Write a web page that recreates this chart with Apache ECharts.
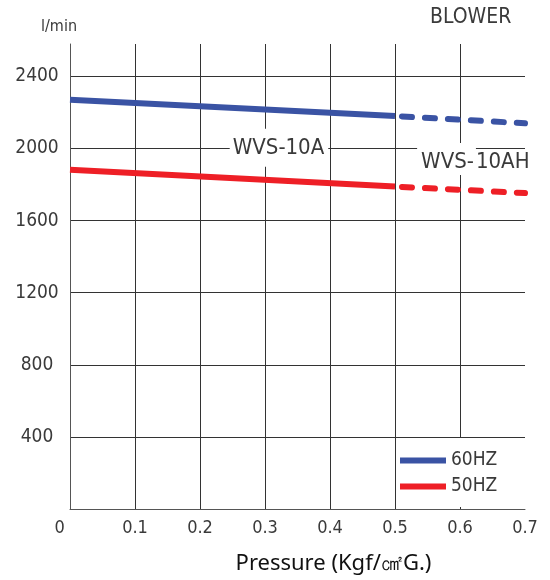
<!DOCTYPE html>
<html>
<head>
<meta charset="utf-8">
<script src="https://cdn.jsdelivr.net/npm/echarts@6/dist/echarts.min.js"></script>
<style>html,body{margin:0;padding:0;background:#fff;}#c{width:550px;height:580px;}</style>
</head>
<body>
<div id="c"></div>
<script>
// Data
var xTicks = [0, 0.1, 0.2, 0.3, 0.4, 0.5, 0.6, 0.7];
var yTicks = [400, 800, 1200, 1600, 2000, 2400];
var pressure60Solid = [0, 0.5];
var flow60Solid = [2271, 2180];
var pressure60Dash = [0.5, 0.7];
var flow60Dash = [2180, 2140];
var pressure50Solid = [0, 0.5];
var flow50Solid = [1882, 1789];
var pressure50Dash = [0.5, 0.7];
var flow50Dash = [1789, 1753];
var seriesNames = ['60HZ', '50HZ'];
var labelA = 'WVS-10A';
var labelAPos = [0.3215, 2004];
var labelAH = ['WVS-', '10AH'];
var labelAHPos = [0.6205, 1942];

function pairs(xs, ys) { return xs.map(function (x, i) { return [x, ys[i]]; }); }

var CAD = '"DejaVu Sans Condensed", "DejaVu Sans", sans-serif';
var BLUE = '#3a53a4';
var RED = '#ee1f26';
var GRIDC = '#333';
var TXT = '#3a3a3a';

var chart = echarts.init(document.getElementById('c'), null, {renderer: 'canvas'});
chart.setOption({
  animation: false,
  backgroundColor: '#fff',
  title: [
    {text: 'l/min', left: 41, top: 19, padding: 0,
     textStyle: {fontFamily: CAD, fontSize: 16, fontWeight: 'normal', color: TXT}},
    {text: 'BLOWER', left: 430, top: 7, padding: 0,
     textStyle: {fontFamily: CAD, fontSize: 21, fontWeight: 'normal', color: TXT}}
  ],
  grid: {left: 70, right: 25, top: 44, bottom: 71, containLabel: false, outerBoundsMode: 'none'},
  legend: {
    data: seriesNames,
    orient: 'vertical',
    left: 397, top: 438,
    backgroundColor: '#fff',
    padding: [13, 23, 11, 3],
    itemGap: 7,
    itemWidth: 46, itemHeight: 6,
    icon: 'rect',
    textStyle: {fontFamily: CAD, fontSize: 19, lineHeight: 19, color: TXT}
  },
  xAxis: {
    type: 'value', min: 0, max: 0.7, interval: 0.1,
    axisLine: {show: true, lineStyle: {color: '#555', width: 1}},
    axisTick: {show: false},
    splitLine: {show: true, showMinLine: false, showMaxLine: false, lineStyle: {color: GRIDC, width: 1}},
    axisLabel: {
      margin: 10, fontFamily: CAD, fontSize: 18, color: TXT,
      formatter: function (v) { return v === 0 ? '0    ' : (xTicks.indexOf(Math.round(v * 10) / 10) >= 0 ? (Math.round(v * 10) / 10).toFixed(1) : ''); }
    },
    name: 'Pressure (Kgf/㎠G.)',
    nameLocation: 'middle',
    nameGap: 44,
    nameTextStyle: {fontFamily: '"Noto Sans", sans-serif', fontSize: 22, color: '#111', padding: [0, 0, 0, 72]}
  },
  yAxis: {
    type: 'value', min: 0, max: 2580, interval: 400,
    axisLine: {show: true, lineStyle: {color: '#555', width: 1}},
    axisTick: {show: false},
    splitLine: {show: true, showMinLine: false, showMaxLine: false, lineStyle: {color: GRIDC, width: 1}},
    axisLabel: {
      showMinLabel: false, showMaxLabel: false,
      align: 'center', margin: 33,
      fontFamily: CAD, fontSize: 19, color: TXT,
      formatter: function (v) { return yTicks.indexOf(v) >= 0 ? String(v) : ''; }
    }
  },
  series: [
    {
      name: seriesNames[0], type: 'line', data: pairs(pressure60Solid, flow60Solid),
      symbol: 'none', color: BLUE, lineStyle: {color: BLUE, width: 6}, z: 3,
      markPoint: {
        symbol: 'circle', symbolSize: 1, itemStyle: {color: 'rgba(0,0,0,0)'},
        data: [
          {coord: labelAPos, label: {show: true, position: 'inside',
            formatter: labelA, fontFamily: CAD, fontSize: 22, color: TXT,
            backgroundColor: '#fff', padding: [6, 4, 10, 3]}},
          {coord: labelAHPos, label: {show: true, position: 'inside',
            formatter: '{b|' + labelAH[0] + '}{t|' + labelAH[1] + '}',
            rich: {
              b: {fontFamily: CAD, fontSize: 22, color: TXT, backgroundColor: '#fff', padding: [8, 2, 2, 4]},
              t: {fontFamily: CAD, fontSize: 22, color: TXT, padding: [8, 0, 2, 0]}
            }}}
        ]
      }
    },
    {
      name: seriesNames[0] + ' ', type: 'line', data: pairs(pressure60Dash, flow60Dash),
      symbol: 'none', color: BLUE,
      lineStyle: {color: BLUE, width: 6, type: [10, 13], dashOffset: 16, cap: 'round'}, z: 3
    },
    {
      name: seriesNames[1], type: 'line', data: pairs(pressure50Solid, flow50Solid),
      symbol: 'none', color: RED, lineStyle: {color: RED, width: 6}, z: 3
    },
    {
      name: seriesNames[1] + ' ', type: 'line', data: pairs(pressure50Dash, flow50Dash),
      symbol: 'none', color: RED,
      lineStyle: {color: RED, width: 6, type: [10, 13], dashOffset: 16, cap: 'round'}, z: 3
    }
  ]
});
</script>
</body>
</html>
